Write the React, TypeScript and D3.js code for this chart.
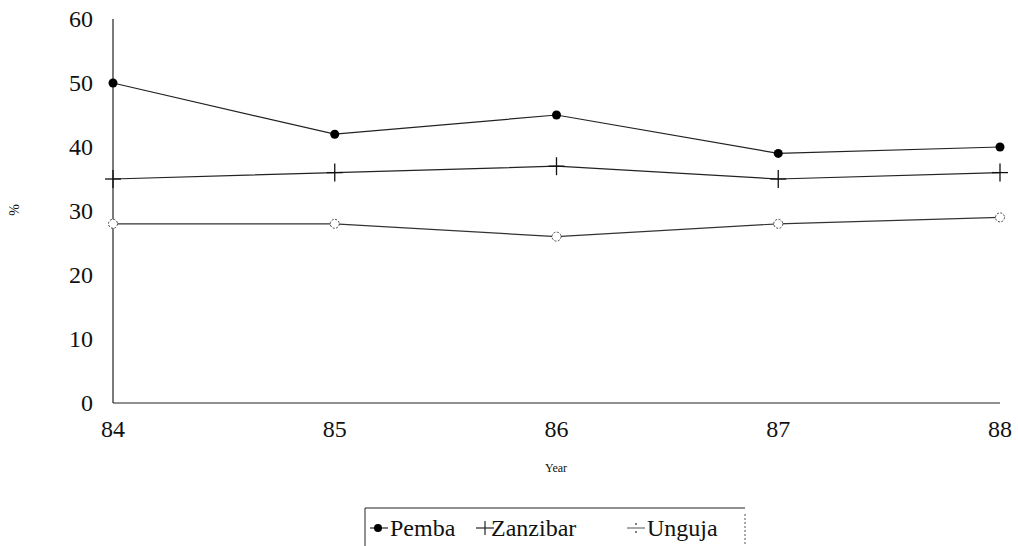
import React, { useEffect, useRef } from "react";
import * as d3 from "d3";

const years = ["84", "85", "86", "87", "88"];
const yTicks = [0, 10, 20, 30, 40, 50, 60];
const pemba = [50, 42, 45, 39, 40];
const zanzibar = [35, 36, 37, 35, 36];
const unguja = [28, 28, 26, 28, 29];
const legendItems = ["Pemba", "Zanzibar", "Unguja"];

const W = 1018;
const H = 546;
const FONT = "Times New Roman";

export default function App() {
  const ref = useRef<SVGSVGElement | null>(null);

  useEffect(() => {
    const svg = d3.select(ref.current);
    svg.selectAll("*").remove();
    const x = d3.scalePoint<string>().domain(years).range([113, 1000]);
    const y = d3.scaleLinear().domain([0, 60]).range([403, 19]);
    const line = d3
      .line<number>()
      .x((_, i) => x(years[i]) as number)
      .y((d) => y(d));

    const txt = (sel: any) =>
      sel.attr("font-family", FONT).style("font-family", FONT).attr("fill", "#111");

    svg.append("line").attr("x1", 113).attr("x2", 113).attr("y1", y(60)).attr("y2", y(0)).attr("stroke", "#222").attr("stroke-width", 1.2);
    svg.append("line").attr("x1", 113).attr("x2", 1000).attr("y1", y(0)).attr("y2", y(0)).attr("stroke", "#222").attr("stroke-width", 1.2);

    txt(
      svg.selectAll(".yt").data(yTicks).enter().append("text")
        .attr("x", 93).attr("y", (d: number) => y(d) + 8)
        .attr("text-anchor", "end").attr("font-size", 24)
        .text((d: number) => String(d))
    );
    txt(
      svg.selectAll(".xt").data(years).enter().append("text")
        .attr("x", (d: string) => x(d) as number).attr("y", 437)
        .attr("text-anchor", "middle").attr("font-size", 24)
        .text((d: string) => d)
    );
    txt(svg.append("text").attr("x", 556).attr("y", 472).attr("text-anchor", "middle").attr("font-size", 12).text("Year"));
    txt(svg.append("text").attr("transform", "translate(19,210) rotate(-90)").attr("text-anchor", "middle").attr("font-size", 14).text("%"));

    svg.append("path").attr("d", line(pemba) || "").attr("fill", "none").attr("stroke", "#222").attr("stroke-width", 1.2);
    svg.append("path").attr("d", line(zanzibar) || "").attr("fill", "none").attr("stroke", "#222").attr("stroke-width", 1.2);
    svg.append("path").attr("d", line(unguja) || "").attr("fill", "none").attr("stroke", "#333").attr("stroke-width", 1.2);

    svg.selectAll(".pm").data(pemba).enter().append("circle")
      .attr("cx", (_: number, i: number) => x(years[i]) as number).attr("cy", (d: number) => y(d))
      .attr("r", 4.5).attr("fill", "#000");

    zanzibar.forEach((v, i) => {
      const cx = x(years[i]) as number;
      const cy = y(v);
      const g = svg.append("g").attr("stroke", "#111").attr("stroke-width", 1.3);
      g.append("line").attr("x1", cx - 8).attr("x2", cx + 8).attr("y1", cy).attr("y2", cy);
      g.append("line").attr("x1", cx).attr("x2", cx).attr("y1", cy - 9).attr("y2", cy + 9);
    });

    svg.selectAll(".ug").data(unguja).enter().append("circle")
      .attr("cx", (_: number, i: number) => x(years[i]) as number).attr("cy", (d: number) => y(d))
      .attr("r", 4.5).attr("fill", "#fff").attr("stroke", "#444").attr("stroke-width", 1).attr("stroke-dasharray", "2 1.5");

    // legend
    const lg = svg.append("g");
    lg.append("line").attr("x1", 365).attr("x2", 745).attr("y1", 508).attr("y2", 508).attr("stroke", "#222");
    lg.append("line").attr("x1", 365).attr("x2", 365).attr("y1", 508).attr("y2", 546).attr("stroke", "#222");
    lg.append("line").attr("x1", 745).attr("x2", 745).attr("y1", 514).attr("y2", 546).attr("stroke", "#555").attr("stroke-dasharray", "2 2");

    lg.append("line").attr("x1", 370).attr("x2", 388).attr("y1", 528).attr("y2", 528).attr("stroke", "#222").attr("stroke-width", 1.2);
    lg.append("circle").attr("cx", 378).attr("cy", 528).attr("r", 4).attr("fill", "#000");
    lg.append("line").attr("x1", 476).attr("x2", 494).attr("y1", 528).attr("y2", 528).attr("stroke", "#222").attr("stroke-width", 1.2);
    lg.append("line").attr("x1", 485).attr("x2", 485).attr("y1", 521).attr("y2", 535).attr("stroke", "#222").attr("stroke-width", 1.2);
    lg.append("line").attr("x1", 627).attr("x2", 645).attr("y1", 528).attr("y2", 528).attr("stroke", "#555");
    lg.append("circle").attr("cx", 636).attr("cy", 524).attr("r", 1).attr("fill", "#555");
    lg.append("circle").attr("cx", 636).attr("cy", 532).attr("r", 1).attr("fill", "#555");

    const lx = [390, 491, 647];
    txt(
      lg.selectAll(".lt").data(legendItems).enter().append("text")
        .attr("x", (_: string, i: number) => lx[i]).attr("y", 536).attr("font-size", 24)
        .text((d: string) => d)
    );
  }, []);

  return (
    <svg
      ref={ref}
      width={W}
      height={H}
      style={{ position: "absolute", left: 0, top: 0, background: "#fff" }}
    />
  );
}
